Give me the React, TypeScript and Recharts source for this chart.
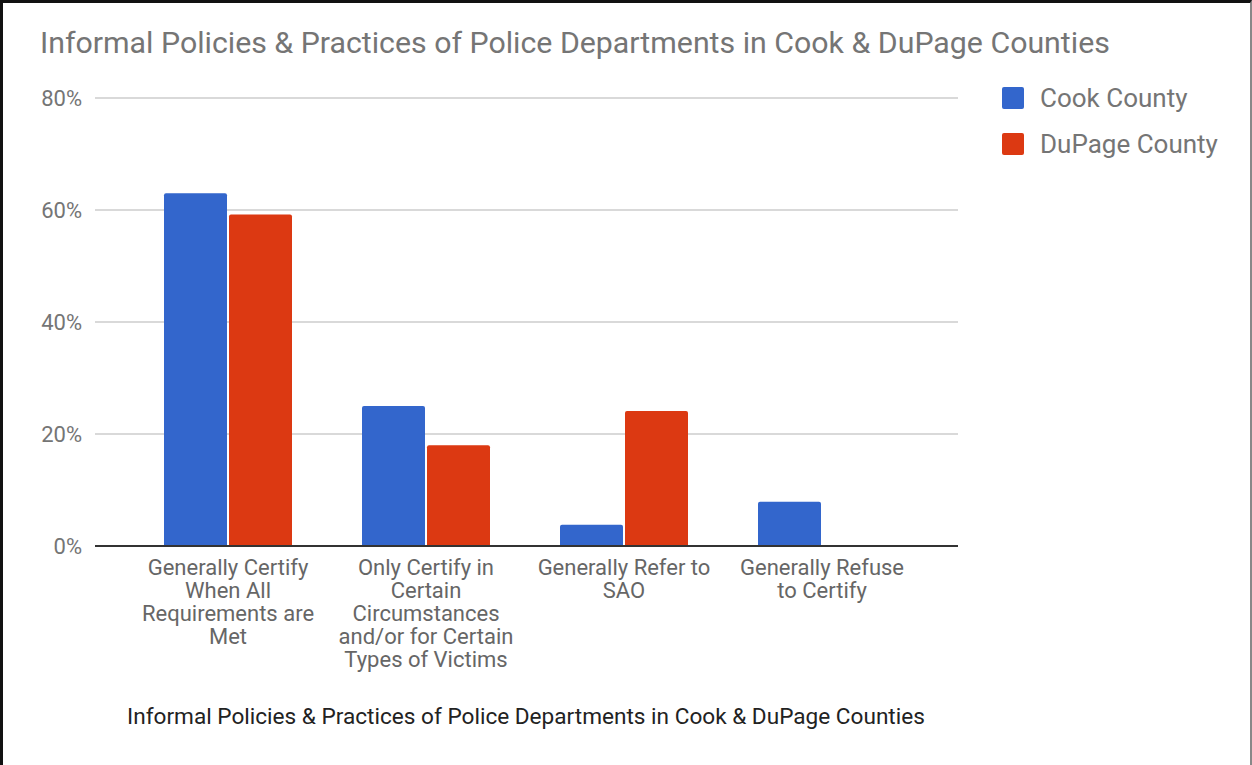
import { BarChart, Bar, XAxis, YAxis, CartesianGrid } from "recharts";

const categories = [
  "Generally Certify When All Requirements are Met",
  "Only Certify in Certain Circumstances and/or for Certain Types of Victims",
  "Generally Refer to SAO",
  "Generally Refuse to Certify",
];
const categoryLines = [
  ["Generally Certify", "When All", "Requirements are", "Met"],
  ["Only Certify in", "Certain", "Circumstances", "and/or for Certain", "Types of Victims"],
  ["Generally Refer to", "SAO"],
  ["Generally Refuse", "to Certify"],
];
const cookCounty = [63, 25, 3.8, 7.9];
const duPageCounty = [59.2, 18, 24.1, 0];
const yTicks = [0, 20, 40, 60, 80];

const seriesNames = ["Cook County", "DuPage County"];
const colors = ["#3366cc", "#dc3912"];

const data = categories.map((c, i) => ({
  name: c,
  cook: cookCounty[i],
  dupage: duPageCounty[i],
}));

const FONT = "Roboto, 'Noto Sans', sans-serif";

const CategoryTick = (props: any) => {
  const { x, y, index } = props;
  const lines = categoryLines[index] || [];
  return (
    <g transform={`translate(${x},${y})`}>
      <text textAnchor="middle" fill="#666" fontSize={22} fontFamily={FONT}>
        {lines.map((l, i) => (
          <tspan key={i} x={0} y={21 + i * 23}>
            {l}
          </tspan>
        ))}
      </text>
    </g>
  );
};

const App = () => {
  return (
    <div
      style={{
        position: "absolute",
        left: 0,
        top: 0,
        width: 1252,
        height: 765,
        background: "#fff",
        boxSizing: "border-box",
        borderTop: "3px solid #111",
        borderLeft: "3px solid #111",
        borderRight: "2px solid #888",
        overflow: "hidden",
      }}
    >
      <div
        style={{
          position: "absolute",
          left: 37,
          top: 22,
          fontFamily: FONT,
          fontSize: 30.3,
          color: "#757575",
          whiteSpace: "nowrap",
        }}
      >
        Informal Policies &amp; Practices of Police Departments in Cook &amp; DuPage Counties
      </div>
      <div
        style={{
          position: "absolute",
          left: 0,
          width: 1046,
          top: 700,
          textAlign: "center",
          fontFamily: FONT,
          fontSize: 22.6,
          color: "#222",
          whiteSpace: "nowrap",
        }}
      >
        Informal Policies &amp; Practices of Police Departments in Cook &amp; DuPage Counties
      </div>
      <div
        style={{
          position: "absolute",
          left: 999,
          top: 72,
          fontFamily: FONT,
        }}
      >
        {seriesNames.map((n, i) => (
          <div
            key={n}
            style={{ display: "flex", alignItems: "center", height: 46 }}
          >
            <div
              style={{
                width: 22,
                height: 22,
                background: colors[i],
                borderRadius: 2,
                marginRight: 16,
              }}
            />
            <span style={{ fontSize: 26, color: "#757575" }}>{n}</span>
          </div>
        ))}
      </div>
      <div style={{ position: "absolute", left: -3, top: -3 }}>
        <BarChart
          width={1252}
          height={765}
          data={data}
          margin={{ top: 98, right: 294, left: 35, bottom: 69 }}
          barGap={2}
          barCategoryGap={35}
        >
          <CartesianGrid vertical={false} stroke="#ccc" strokeWidth={1.5} />
          <XAxis
            dataKey="name"
            height={150}
            interval={0}
            tick={<CategoryTick />}
            tickLine={false}
            axisLine={{ stroke: "#333", strokeWidth: 2 }}
            padding={{ left: 34, right: 37 }}
          />
          <YAxis
            width={60}
            domain={[0, 80]}
            ticks={yTicks}
            tickFormatter={(v: number) => `${v}%`}
            tick={{ fill: "#757575", fontSize: 22, fontFamily: FONT }}
            tickLine={false}
            tickSize={0}
            tickMargin={13}
            axisLine={false}
          />
          <Bar
            dataKey="cook"
            name={seriesNames[0]}
            fill={colors[0]}
            radius={[2, 2, 0, 0]}
            isAnimationActive={false}
          />
          <Bar
            dataKey="dupage"
            name={seriesNames[1]}
            fill={colors[1]}
            radius={[2, 2, 0, 0]}
            isAnimationActive={false}
          />
        </BarChart>
      </div>
    </div>
  );
};

export default App;
